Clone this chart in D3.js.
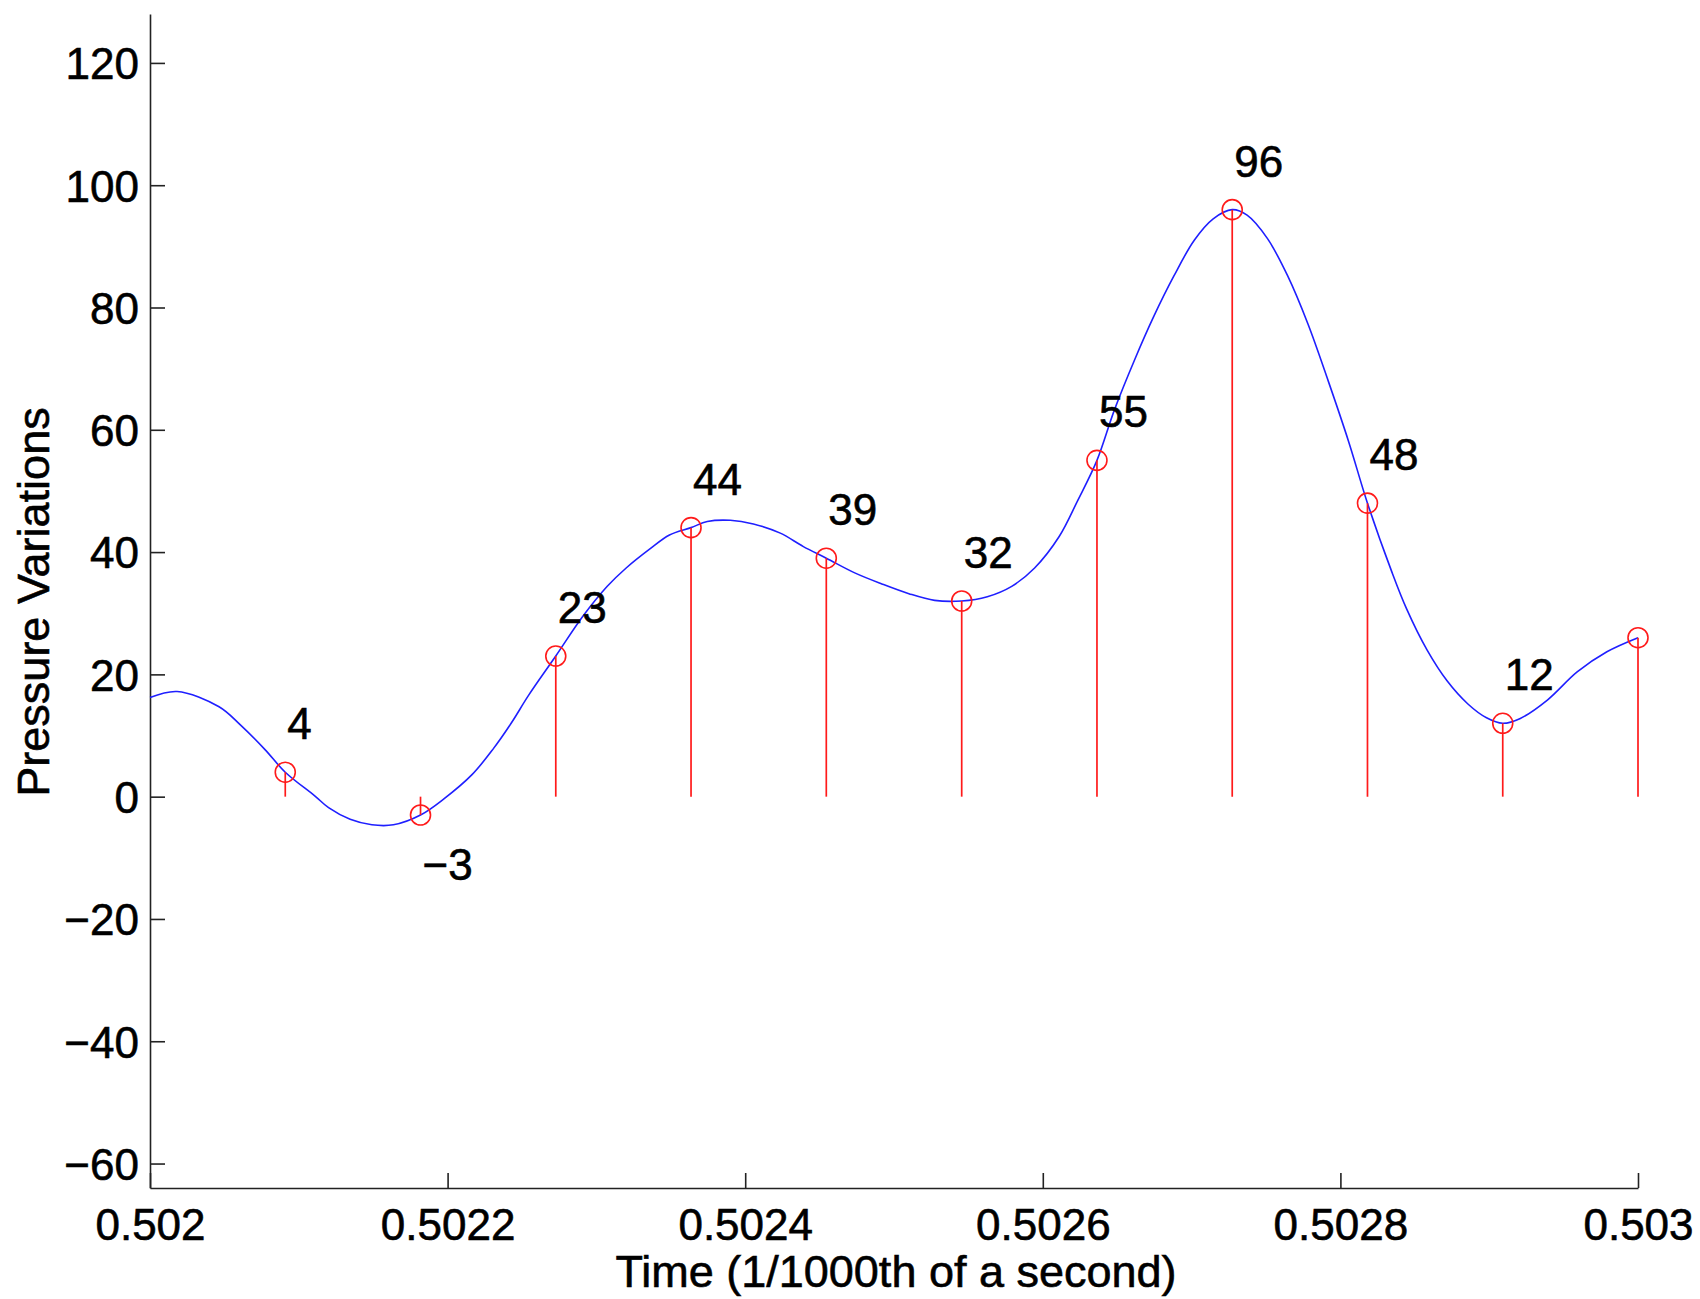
<!DOCTYPE html>
<html>
<head>
<meta charset="utf-8">
<script src="https://cdn.jsdelivr.net/npm/d3@7"></script>
<style>
  html, body { margin: 0; padding: 0; background: #fff; }
  svg { display: block; }
  text { font-family: "Liberation Sans", Arial, Helvetica, sans-serif; fill: #000; }
</style>
</head>
<body>
<svg id="chart" width="1700" height="1299"></svg>
<script>
// ---- Data ----
// Sample times (seconds) and values
const sampleTimes = [0.5020909, 0.5021818, 0.5022727, 0.5023636, 0.5024545, 0.5025455,
                     0.5026364, 0.5027273, 0.5028182, 0.5029091, 0.5030000];
const sampleValues = [4, -3, 23, 44, 39, 32, 55, 96, 48, 12, 26];
const sampleLabels = ["4", "\u22123", "23", "44", "39", "32", "55", "96", "48", "12", ""];

// Reconstructed (smooth) signal
const curveTimes = [0.5020000, 0.5020182, 0.5020464, 0.5020609, 0.5020773, 0.5020909,
  0.5021109, 0.5021200, 0.5021345, 0.5021491, 0.5021636, 0.5021818, 0.5021973, 0.5022164,
  0.5022309, 0.5022427, 0.5022545, 0.5022727, 0.5022909, 0.5023073, 0.5023200, 0.5023364,
  0.5023491, 0.5023636, 0.5023745, 0.5023900, 0.5024055, 0.5024236, 0.5024391, 0.5024545,
  0.5024736, 0.5024918, 0.5025100, 0.5025273, 0.5025455, 0.5025627, 0.5025791, 0.5025945,
  0.5026109, 0.5026236, 0.5026364, 0.5026482, 0.5026618, 0.5026745, 0.5026882, 0.5027018,
  0.5027145, 0.5027273, 0.5027373, 0.5027509, 0.5027645, 0.5027782, 0.5027918, 0.5028055,
  0.5028182, 0.5028345, 0.5028445, 0.5028582, 0.5028718, 0.5028855, 0.5028982, 0.5029091,
  0.5029209, 0.5029391, 0.5029591, 0.5029791, 0.5030000];
const curveValues = [16.2, 17.2, 14.7, 11.7, 7.7, 4,
  0.1, -1.8, -3.7, -4.6, -4.6, -3, -0.4, 3.6,
  7.9, 12, 16.6, 23, 29.5, 34.4, 37.4, 40.6,
  42.8, 44, 45.0, 45.2, 44.6, 43.1, 40.9, 39,
  36.6, 34.8, 33.2, 32.1, 32, 32.7, 34.4, 37.4,
  42.5, 48.5, 55, 63.3, 71.5, 78.5, 85.2, 91.0,
  94.5, 96, 95.1, 91.3, 85.2, 77.3, 68.0, 58.1,
  48, 36.8, 30.7, 24.0, 18.9, 15.2, 12.9, 12,
  12.8, 15.8, 20.4, 23.7, 26];

// Ticks
const xTicks = [0.502, 0.5022, 0.5024, 0.5026, 0.5028, 0.503];
const xTickLabels = ["0.502", "0.5022", "0.5024", "0.5026", "0.5028", "0.503"];
const yTicks = [-60, -40, -20, 0, 20, 40, 60, 80, 100, 120];
const yTickLabels = ["\u221260", "\u221240", "\u221220", "0", "20", "40", "60", "80", "100", "120"];
const xLabel = "Time (1/1000th of a second)";
const yLabel = "Pressure Variations";

// ---- Layout ----
const W = 1700, H = 1299;
const margin = { left: 150, right: 62, top: 14, bottom: 111 };
const svg = d3.select("#chart");
const x = d3.scaleLinear().domain([0.502, 0.503]).range([margin.left, W - margin.right]);
const y = d3.scaleLinear().domain([-64, 128]).range([H - margin.bottom, margin.top]);

const tickFont = 44, labelFont = 45, textStroke = 0.6;

// Axes
const xAxis = d3.axisBottom(x).tickValues(xTicks).tickFormat((d, i) => xTickLabels[i])
  .tickSizeInner(-15).tickSizeOuter(0).tickPadding(0);
const yAxis = d3.axisLeft(y).tickValues(yTicks).tickFormat((d, i) => yTickLabels[i])
  .tickSizeInner(-15).tickSizeOuter(0).tickPadding(0);

const gx = svg.append("g").attr("transform", `translate(0,${H - margin.bottom})`).call(xAxis);
const gy = svg.append("g").attr("transform", `translate(${margin.left},0)`).call(yAxis);

[gx, gy].forEach(g => {
  g.select(".domain").attr("stroke", "#222").attr("stroke-width", 1.6);
  g.selectAll(".tick line").attr("stroke", "#222").attr("stroke-width", 1.6);
  g.selectAll(".tick text").attr("font-size", tickFont)
    .attr("font-family", "'Liberation Sans', Arial, Helvetica, sans-serif").attr("fill", "#000")
    .attr("stroke", "#000").attr("stroke-width", textStroke);
});
gx.selectAll(".tick text").attr("y", 52).attr("dy", null).attr("dominant-baseline", "auto");
gy.selectAll(".tick text").attr("x", -11).attr("dy", "0.36em");

// Axis labels
svg.append("text")
  .attr("x", (margin.left + W - margin.right) / 2 + 2)
  .attr("y", 1287)
  .attr("text-anchor", "middle")
  .attr("font-size", labelFont)
  .attr("stroke", "#000").attr("stroke-width", textStroke)
  .text(xLabel);

svg.append("text")
  .attr("transform", `translate(49,${(margin.top + H - margin.bottom) / 2 + 1}) rotate(-90)`)
  .attr("text-anchor", "middle")
  .attr("font-size", labelFont)
  .attr("stroke", "#000").attr("stroke-width", textStroke)
  .text(yLabel);

// Smooth curve
const curveData = curveTimes.map((t, i) => [t, curveValues[i]]);
const line = d3.line().x(d => x(d[0])).y(d => y(d[1])).curve(d3.curveCatmullRom.alpha(0.5));
svg.append("path")
  .datum(curveData)
  .attr("d", line)
  .attr("fill", "none")
  .attr("stroke", "#1f1fff")
  .attr("stroke-width", 1.6);

// Stems
const samples = sampleTimes.map((t, i) => ({ t, v: sampleValues[i], label: sampleLabels[i] }));
svg.append("g").selectAll("line").data(samples).join("line")
  .attr("x1", d => x(d.t)).attr("x2", d => x(d.t))
  .attr("y1", y(0)).attr("y2", d => y(d.v))
  .attr("stroke", "#ff1a1a").attr("stroke-width", 1.7);

// Markers
svg.append("g").selectAll("circle").data(samples).join("circle")
  .attr("cx", d => x(d.t)).attr("cy", d => y(d.v)).attr("r", 10)
  .attr("fill", "none").attr("stroke", "#ff1a1a").attr("stroke-width", 1.6);

// Value labels
svg.append("g").selectAll("text").data(samples.filter(d => d.label !== "")).join("text")
  .attr("x", d => x(d.t) + 2)
  .attr("y", d => y(d.v >= 0 ? d.v + 8 : d.v - 8))
  .attr("dy", "0.36em")
  .attr("font-size", tickFont)
  .attr("stroke", "#000").attr("stroke-width", textStroke)
  .text(d => d.label);
</script>
</body>
</html>
